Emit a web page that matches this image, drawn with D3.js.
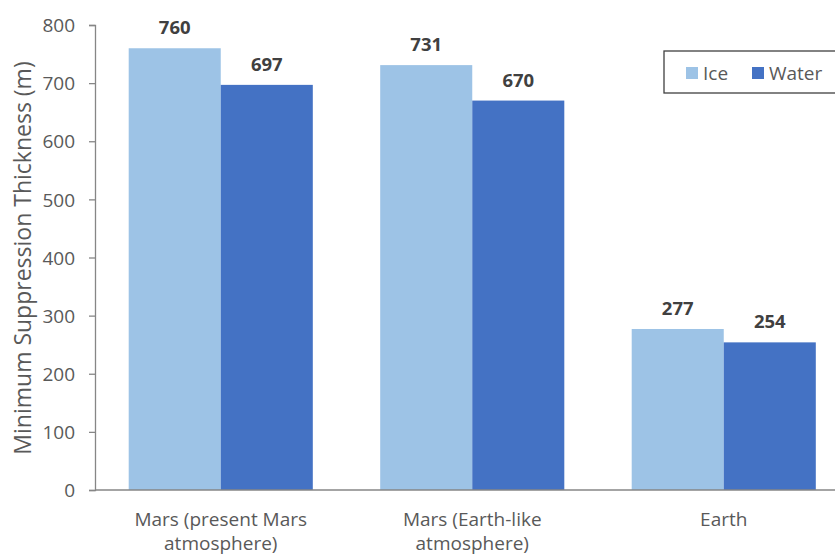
<!DOCTYPE html>
<html>
<head>
<meta charset="utf-8">
<script src="https://cdn.jsdelivr.net/npm/d3@7"></script>
<style>
  html, body { margin: 0; padding: 0; background: #fff; }
  svg { display: block; font-family: "Open Sans", "Noto Sans", sans-serif; }
</style>
</head>
<body>
<svg id="chart" width="835" height="554"></svg>
<script>
// Minimum suppression thickness by planetary setting
const categories = [
  ["Mars (present Mars", "atmosphere)"],
  ["Mars (Earth-like", "atmosphere)"],
  ["Earth"]
];
const seriesNames = ["Ice", "Water"];
const iceValues = [760, 731, 277];
const waterValues = [697, 670, 254];
const yTicks = [0, 100, 200, 300, 400, 500, 600, 700, 800];
const yTitle = "Minimum Suppression Thickness (m)";

const colors = { Ice: "#9dc3e6", Water: "#4472c4" };
const textColor = "#595959";
const labelColor = "#404040";

const svg = d3.select("#chart");
const plot = { left: 95, right: 849.5, top: 25, bottom: 490 };

const catKeys = categories.map(c => c.join(" "));
const rows = catKeys.map((k, i) => ({ key: k, lines: categories[i], Ice: iceValues[i], Water: waterValues[i] }));

const x0 = d3.scaleBand().domain(catKeys).range([plot.left, plot.right])
  .paddingInner(0.268).paddingOuter(0.134);
const x1 = d3.scaleBand().domain(seriesNames).range([0, x0.bandwidth()]).padding(0);
const y = d3.scaleLinear().domain([0, 800]).range([plot.bottom, plot.top]);

// bars
const groups = svg.append("g").selectAll("g").data(rows).join("g")
  .attr("transform", d => `translate(${x0(d.key)},0)`);
groups.selectAll("rect").data(d => seriesNames.map(s => ({ s, v: d[s] }))).join("rect")
  .attr("x", d => x1(d.s))
  .attr("y", d => y(d.v))
  .attr("width", x1.bandwidth())
  .attr("height", d => y(0) - y(d.v))
  .attr("fill", d => colors[d.s]);

// value labels
groups.selectAll("text.val").data(d => seriesNames.map(s => ({ s, v: d[s] }))).join("text")
  .attr("class", "val")
  .attr("x", d => x1(d.s) + x1.bandwidth() / 2)
  .attr("y", d => y(d.v) - 14)
  .attr("text-anchor", "middle")
  .attr("font-size", 18.5)
  .attr("font-weight", "bold")
  .attr("fill", labelColor)
  .text(d => d.v);

// y axis
const yAxis = svg.append("g")
  .attr("transform", `translate(${plot.left},0)`)
  .call(d3.axisLeft(y).tickValues(yTicks).tickSize(6).tickPadding(14).tickFormat(d3.format("d")));
yAxis.select(".domain").attr("stroke", "#868686").attr("stroke-width", 1.3);
yAxis.selectAll(".tick line").attr("stroke", "#868686").attr("stroke-width", 1.3);
yAxis.selectAll(".tick text").attr("fill", textColor).attr("font-size", 19)
  .attr("font-family", "'Open Sans', sans-serif").attr("dy", "0.35em");

// x baseline
svg.append("line")
  .attr("x1", plot.left).attr("x2", 835)
  .attr("y1", y(0)).attr("y2", y(0))
  .attr("stroke", "#868686").attr("stroke-width", 1.3);

// category labels (two-line wrap)
const catLabels = svg.append("g").selectAll("text").data(rows).join("text")
  .attr("text-anchor", "middle")
  .attr("font-size", 19)
  .attr("fill", textColor)
  .attr("x", d => x0(d.key) + x0.bandwidth() / 2)
  .attr("y", 526);
catLabels.selectAll("tspan").data(d => d.lines).join("tspan")
  .attr("x", function() { return this.parentNode.getAttribute("x"); })
  .attr("dy", (d, i) => i === 0 ? 0 : 24)
  .text(d => d);

// y axis title
svg.append("text")
  .attr("transform", `translate(31,258) rotate(-90)`)
  .attr("text-anchor", "middle")
  .attr("font-size", 23)
  .attr("fill", textColor)
  .text(yTitle);

// legend
const legend = svg.append("g");
legend.append("rect")
  .attr("x", 664).attr("y", 51).attr("width", 200).attr("height", 42)
  .attr("fill", "#fff").attr("stroke", "#404040").attr("stroke-width", 1.3);
const legendX = { Ice: 686, Water: 752 };
seriesNames.forEach(s => {
  legend.append("rect")
    .attr("x", legendX[s]).attr("y", 67).attr("width", 12).attr("height", 12)
    .attr("fill", colors[s]);
  legend.append("text")
    .attr("x", legendX[s] + 17).attr("y", 80)
    .attr("font-size", 19).attr("fill", textColor)
    .text(s);
});
</script>
</body>
</html>
